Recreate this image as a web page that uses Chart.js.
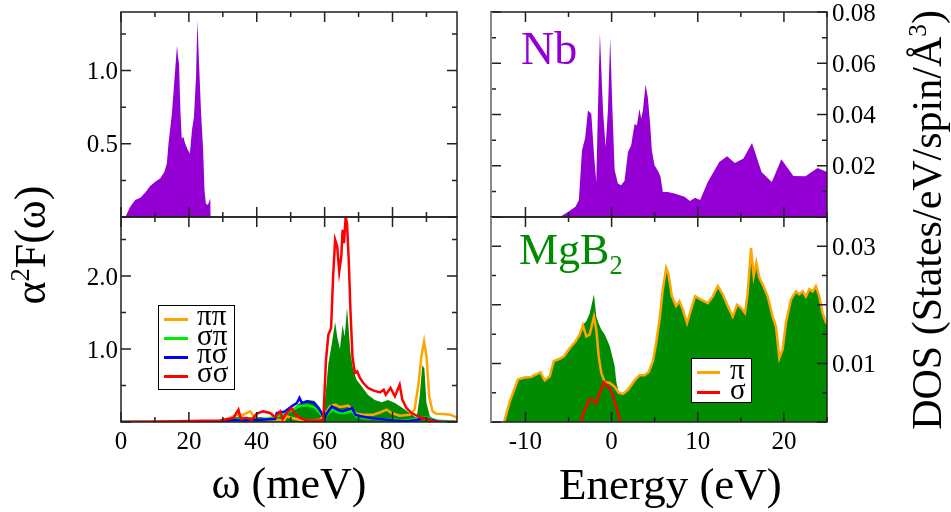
<!DOCTYPE html>
<html>
<head>
<meta charset="utf-8">
<script src="https://cdn.jsdelivr.net/npm/chart.js@4.4.0/dist/chart.umd.min.js"></script>
<style>
  body { margin: 0; background: #fff; }
  #wrap { position: relative; width: 951px; height: 512px; overflow: hidden; font-family: "Liberation Serif", serif; }
  #wrap canvas { position: absolute; left: 0; top: 0; }
  .t { position: absolute; white-space: nowrap; color: #000; text-align: center; }
  .tk { position: absolute; white-space: nowrap; color: #000; font-size: 25px; line-height: 25px; }
  .rot { transform: rotate(-90deg); }
  .leg { position: absolute; background: #fff; border: 1px solid #000; box-sizing: border-box; }
  .leg .ln { position: absolute; height: 3px; }
  .leg .lb { position: absolute; font-size: 29px; line-height: 20px; }
  sup, sub { font-size: 60%; line-height: 0; }
</style>
</head>
<body>
<div id="wrap">
  <canvas id="tl" width="951" height="512"></canvas>
  <canvas id="bl" width="951" height="512"></canvas>
  <canvas id="tr" width="951" height="512"></canvas>
  <canvas id="br" width="951" height="512"></canvas>

  <div class="t" style="left:189px;top:462px;width:200px;font-size:44px;line-height:44px;">ω (meV)</div>
  <div class="t" style="left:559px;top:462px;width:200px;font-size:45px;line-height:44px;">Energy (eV)</div>
  <div class="t rot" style="left:-69px;top:223px;width:200px;height:44px;font-size:44px;line-height:44px;">α<sup>2</sup>F(ω)</div>
  <div class="t rot" style="left:697px;top:199px;width:460px;height:42px;font-size:42px;line-height:42px;">DOS (States/eV/spin/Å<sup>3</sup>)</div>
  <div class="t" style="left:521px;top:26px;font-size:46px;line-height:46px;color:#9400d3;text-align:left;">Nb</div>
  <div class="t" style="left:519px;top:228px;font-size:44px;line-height:44px;color:#008b00;text-align:left;">MgB<sub>2</sub></div>

  <div class="leg" id="legL" style="left:158px;top:305px;width:77px;height:85px;"></div>
  <div class="leg" id="legR" style="left:691px;top:358px;width:61px;height:45px;"></div>
</div>

<script>
// ---- Nb alpha^2F(omega), top left ----
const nbW   = [0, 1.3, 2.7, 4.2, 5.7, 7.1, 8.6, 10.1, 11.6, 12.8, 13.5, 14.0, 15.0, 15.8, 16.5, 16.8, 17.1, 17.5, 17.9, 18.4, 18.9, 19.7, 20.3, 20.9, 21.5, 22.1, 22.5, 23.0, 23.6, 24.2, 24.6, 25.0, 25.6, 26.3, 26.4, 99];
const nbA2F = [0, 0, 0.070, 0.116, 0.132, 0.166, 0.211, 0.241, 0.264, 0.309, 0.366, 0.502, 0.706, 0.956, 1.172, 1.093, 1.048, 0.729, 0.536, 0.547, 0.502, 0.457, 0.434, 0.593, 0.684, 0.956, 1.343, 1.048, 0.707, 0.457, 0.184, 0.093, 0.082, 0.127, 0, 0];

// ---- MgB2 alpha^2F(omega), bottom left ----
const mgW   = [0, 29, 32, 35, 38, 41, 44, 46, 48, 50.3, 52.7, 55, 57, 58.6, 59.6, 60.4, 61.1, 62.1, 63.1, 63.7, 64.5, 65.3, 65.9, 66.6, 67.1, 67.6, 68.4, 69.4, 70.9, 72.8, 74.8, 76.8, 78.7, 80.7, 83.1, 85.1, 87.1, 88, 88.8, 89.4, 90, 91, 92.5, 94, 99];
const mgA2F = [0, 0.01, 0.05, 0.08, 0.06, 0.07, 0.05, 0.10, 0.12, 0.17, 0.26, 0.30, 0.29, 0.20, 0.10, 0.44, 0.80, 1.07, 1.37, 1.17, 1.00, 1.33, 1.17, 1.57, 1.26, 0.95, 0.72, 0.58, 0.49, 0.37, 0.30, 0.27, 0.30, 0.26, 0.19, 0.12, 0.055, 0.35, 0.78, 0.73, 0.26, 0.08, 0.03, 0.01, 0];

const ppW = [0, 29.2, 32.1, 34.1, 36.1, 38.1, 39.1, 41, 43, 45, 46.4, 47.9, 48.8, 50.3, 52.7, 55.6, 58.6, 60.1, 61.6, 63.1, 64.5, 66, 67, 68, 69.4, 71.4, 74.3, 76.3, 78.3, 79.7, 82.1, 85.1, 86.5, 87.7, 88.5, 89.3, 90, 90.8, 91.8, 92.9, 95, 97, 99];
const ppA = [0, 0.01, 0.055, 0.1, 0.1, 0.145, 0.08, 0.03, 0.03, 0.02, 0.03, 0.01, 0.08, 0.055, 0.03, 0.02, 0.03, 0.1, 0.215, 0.237, 0.205, 0.215, 0.225, 0.17, 0.114, 0.1, 0.1, 0.13, 0.17, 0.123, 0.086, 0.1, 0.17, 0.534, 0.9, 1.104, 0.9, 0.35, 0.145, 0.114, 0.11, 0.1, 0.06];

const spW = [0, 30, 34, 38, 42, 46, 48, 50, 52.6, 55, 57, 59, 60, 61, 62.5, 64, 66, 68, 69.5, 72, 76, 80, 84, 88, 90, 93, 99];
const spA = [0, 0.005, 0.04, 0.05, 0.03, 0.08, 0.1, 0.15, 0.22, 0.23, 0.2, 0.1, 0.05, 0.12, 0.17, 0.13, 0.12, 0.15, 0.07, 0.05, 0.04, 0.03, 0.02, 0.05, 0.06, 0.02, 0];

const psW = [0, 30, 33, 36, 39, 41, 45.4, 45.9, 48.3, 50.3, 51.8, 52.6, 53.3, 54.8, 56.8, 58.2, 59.2, 59.9, 60.7, 62.1, 63.7, 65.2, 66.6, 68.1, 69.1, 70.6, 73.5, 76.5, 80.4, 84.3, 87.3, 89.2, 91.2, 93.9, 99];
const psA = [0, 0.005, 0.03, 0.02, 0.035, 0.03, 0.04, 0.123, 0.145, 0.215, 0.26, 0.33, 0.26, 0.283, 0.26, 0.19, 0.114, 0.04, 0.123, 0.215, 0.17, 0.145, 0.17, 0.19, 0.1, 0.08, 0.055, 0.04, 0.02, 0.01, 0.03, 0.055, 0.03, 0, 0];

const ssW = [0, 10, 20, 29.2, 33.1, 34.6, 35.3, 37.1, 38.5, 40.0, 41.9, 43.9, 45.4, 46.9, 47.6, 48.8, 50.3, 51.3, 52.7, 54.7, 58.6, 59.6, 60.4, 61.1, 61.9, 62.5, 63.1, 63.7, 64.3, 64.9, 65.3, 65.7, 66.2, 66.6, 67.1, 67.6, 68.2, 68.9, 69.6, 70.4, 71.4, 72.8, 74.3, 76.3, 77.4, 78.0, 79.4, 80.7, 82.1, 82.9, 84.1, 85.6, 87.1, 88.5, 90, 92, 93.9, 99];
const ssA = [0, 0.005, 0.015, 0.02, 0.055, 0.17, 0.04, 0.055, 0.03, 0.114, 0.145, 0.123, 0.068, 0.145, 0.04, 0.123, 0.19, 0.11, 0.055, 0.02, 0.02, 0.03, 0.853, 1.196, 1.288, 1.995, 2.497, 2.405, 2.063, 2.268, 2.634, 2.452, 2.81, 2.72, 2.22, 1.538, 0.899, 0.671, 0.693, 0.603, 0.534, 0.466, 0.433, 0.405, 0.442, 0.374, 0.466, 0.351, 0.511, 0.305, 0.192, 0.123, 0.086, 0.055, 0.04, 0.01, 0, 0];

// ---- Nb DOS, top right ----
const nbE   = [-14, -6.0, -5.06, -4.2, -3.8, -3.44, -3.06, -2.75, -2.36, -2.05, -1.78, -1.59, -1.36, -1.0, -0.7, -0.43, -0.16, 0.07, 0.35, 0.73, 1.1, 1.5, 1.9, 2.27, 2.67, 2.93, 3.24, 3.43, 3.63, 3.94, 4.2, 4.47, 4.67, 4.98, 5.45, 5.68, 5.94, 6.52, 7.3, 8.46, 9.1, 9.69, 10.27, 11.16, 12.5, 13.4, 14.3, 15.3, 16.3, 17.4, 18.6, 19.7, 21.1, 22.5, 23.9, 25];
const nbDos = [0, 0, 0.002, 0.004, 0.0066, 0.026, 0.031, 0.0416, 0.0403, 0.0247, 0.0137, 0.0416, 0.0716, 0.0416, 0.0273, 0.0416, 0.070, 0.0442, 0.0183, 0.0131, 0.0124, 0.0141, 0.0254, 0.028, 0.0364, 0.0357, 0.0422, 0.0383, 0.0416, 0.0517, 0.0467, 0.0364, 0.026, 0.0202, 0.0176, 0.0157, 0.0098, 0.0098, 0.0092, 0.0079, 0.0062, 0.0075, 0.0066, 0.0137, 0.0215, 0.0237, 0.0211, 0.0228, 0.0289, 0.0176, 0.0137, 0.0225, 0.016, 0.0159, 0.0191, 0.0176];

// ---- MgB2 DOS, bottom right ----
const mgE   = [-12.48, -11.82, -10.86, -10.08, -9.32, -8.62, -8.27, -7.76, -7.18, -6.72, -6.03, -5.53, -4.87, -4.22, -3.71, -3.33, -2.94, -2.55, -2.05, -1.78, -1.5, -1.2, -0.81, -0.23, 0.35, 0.54, 0.81, 1.31, 1.89, 2.67, 3.24, 3.82, 4.29, 4.79, 5.17, 5.56, 5.94, 6.33, 6.6, 6.99, 7.49, 7.88, 8.26, 8.76, 9.22, 9.69, 10.38, 11.16, 11.74, 12.32, 12.9, 13.48, 14.06, 14.56, 15.02, 15.48, 15.79, 16.18, 16.49, 16.8, 17.15, 17.53, 18.11, 18.69, 19.08, 19.47, 19.85, 20.23, 20.81, 21.39, 21.78, 22.17, 22.55, 22.94, 23.33, 23.71, 24.1, 24.49, 24.87, 25];
const mgPi  = [0, 0.0035, 0.0073, 0.0076, 0.0077, 0.0082, 0.0085, 0.0071, 0.0078, 0.0104, 0.0108, 0.0112, 0.0126, 0.0137, 0.0149, 0.0165, 0.0146, 0.0149, 0.018, 0.0158, 0.0112, 0.0084, 0.0068, 0.0067, 0.006, 0.0056, 0.005, 0.0048, 0.0055, 0.0071, 0.008, 0.008, 0.0085, 0.0104, 0.0135, 0.0175, 0.0226, 0.0263, 0.0252, 0.0215, 0.0198, 0.0206, 0.0192, 0.0169, 0.0192, 0.0215, 0.0209, 0.0203, 0.0214, 0.0232, 0.0218, 0.0198, 0.018, 0.02, 0.0195, 0.0186, 0.022, 0.0297, 0.0249, 0.0272, 0.0246, 0.0235, 0.0215, 0.018, 0.0163, 0.0109, 0.0124, 0.0169, 0.0209, 0.0223, 0.0218, 0.0223, 0.0214, 0.0227, 0.0223, 0.0232, 0.0215, 0.0186, 0.017, 0.0168];
const mgTot = [0, 0.0035, 0.0073, 0.0076, 0.0077, 0.0082, 0.0085, 0.0071, 0.0078, 0.0104, 0.0108, 0.0112, 0.0126, 0.0137, 0.0149, 0.0166, 0.0172, 0.0185, 0.0218, 0.018, 0.0168, 0.0158, 0.015, 0.013, 0.0096, 0.0069, 0.005, 0.0048, 0.0055, 0.0071, 0.008, 0.008, 0.0085, 0.0104, 0.0135, 0.0175, 0.0226, 0.0263, 0.0252, 0.0215, 0.0198, 0.0206, 0.0192, 0.0169, 0.0192, 0.0215, 0.0209, 0.0203, 0.0214, 0.0232, 0.0218, 0.0198, 0.018, 0.02, 0.0195, 0.0186, 0.022, 0.0297, 0.0249, 0.0272, 0.0246, 0.0235, 0.0215, 0.018, 0.0163, 0.0109, 0.0124, 0.0169, 0.0209, 0.0223, 0.0218, 0.0223, 0.0214, 0.0227, 0.0223, 0.0232, 0.0215, 0.0186, 0.017, 0.0168];
const sgE   = [-3.6, -3.13, -2.55, -2.17, -1.78, -1.39, -0.89, -0.43, 0.03, 0.42, 0.73, 1.04];
const sgDos = [0, 0.0021, 0.0039, 0.0038, 0.0032, 0.005, 0.0068, 0.0061, 0.005, 0.0032, 0.0015, 0];

// legends
const legLabels = ["ππ", "σπ", "πσ", "σσ"];
const legColors = ["#ffa500", "#00ee00", "#0000ff", "#ff0000"];
const legRLabels = ["π", "σ"];
const legRColors = ["#ffa500", "#ff0000"];

const PURPLE = "#9400d3", GREEN = "#008b00";

const pts = (xs, ys) => xs.map((x, i) => ({ x, y: ys[i] }));
const isMajor = (v, step) => Math.abs(v / step - Math.round(v / step)) < 1e-6;

// frame + inward ticks on all four sides (xmgrace look)
const frameTicks = {
  id: "frameTicks",
  afterDraw(chart, args, o) {
    const { ctx, chartArea: a, scales: { x, y } } = chart;
    ctx.save();
    ctx.strokeStyle = "#222";
    ctx.lineWidth = 1.5;
    ctx.beginPath();
    x.ticks.forEach(t => {
      const p = x.getPixelForValue(t.value);
      const len = isMajor(t.value, o.xMajor) ? 10 : 5;
      ctx.moveTo(p, a.bottom); ctx.lineTo(p, a.bottom - len);
      ctx.moveTo(p, a.top); ctx.lineTo(p, a.top + len);
    });
    y.ticks.forEach(t => {
      const p = y.getPixelForValue(t.value);
      const len = isMajor(t.value, o.yMajor) ? 10 : 5;
      ctx.moveTo(a.left, p); ctx.lineTo(a.left + len, p);
      ctx.moveTo(a.right, p); ctx.lineTo(a.right - len, p);
    });
    ctx.stroke();
    ctx.strokeRect(a.left, a.top, a.width, a.height);
    if (o.leftColor) {
      ctx.strokeStyle = o.leftColor;
      ctx.lineWidth = 2;
      ctx.beginPath(); ctx.moveTo(a.left, a.top); ctx.lineTo(a.left, a.bottom); ctx.stroke();
    }
    ctx.restore();
  }
};

// tick labels are built by the scale (callback) but shown as page text so the serif face is used
function axis(s, pos, size) {
  return {
    type: "linear", position: pos, min: s.min, max: s.max,
    grid: { display: false }, border: { display: false },
    ticks: {
      stepSize: s.minor, includeBounds: false, autoSkip: false, maxRotation: 0, display: false,
      callback: v => (s.labels && isMajor(v, s.major) && !(s.noZero && Math.abs(v) < 1e-9)) ? v.toFixed(s.dec) : ""
    },
    afterFit: sc => {
      if (pos === "bottom") sc.height = size; else sc.width = size;
      sc.paddingLeft = sc.paddingRight = sc.paddingTop = sc.paddingBottom = 0;
    }
  };
}

function tickText(chart, ypos) {
  const wrap = document.getElementById("wrap");
  const a = chart.chartArea, { x, y } = chart.scales;
  const add = (text, css) => {
    const d = document.createElement("div");
    d.className = "tk";
    d.textContent = text;
    Object.assign(d.style, css);
    wrap.appendChild(d);
  };
  x.ticks.forEach(t => {
    if (t.label) add(t.label, { left: (x.getPixelForValue(t.value) - 40) + "px", width: "80px",
                                textAlign: "center", top: (a.bottom + 6) + "px" });
  });
  y.ticks.forEach(t => {
    if (!t.label) return;
    const top = (y.getPixelForValue(t.value) - 12.5) + "px";
    if (ypos === "left") add(t.label, { left: (a.left - 103) + "px", width: "100px", textAlign: "right", top });
    else add(t.label, { left: (a.right + 5) + "px", top });
  });
}

function panel(id, rect, datasets, xs, ys, ypos, leftColor) {
  const [L, T, R, B] = rect;
  const pad = { left: L, top: T, right: 951 - R, bottom: 0 };
  if (ypos === "left") pad.left = 0; else pad.right = 0;
  const chart = new Chart(document.getElementById(id), {
    type: "line",
    data: { datasets },
    options: {
      responsive: false, animation: false,
      layout: { autoPadding: false, padding: pad },
      elements: { point: { radius: 0 }, line: { tension: 0 } },
      plugins: { legend: { display: false }, tooltip: { enabled: false },
                 frameTicks: { xMajor: xs.major, yMajor: ys.major, leftColor } },
      scales: {
        x: axis(xs, "bottom", 512 - B),
        y: axis(ys, ypos, ypos === "left" ? L : 951 - R)
      }
    },
    plugins: [frameTicks]
  });
  tickText(chart, ypos);
  return chart;
}

const fillSet = (data, color) => ({ data, fill: "origin", backgroundColor: color, borderColor: color, borderWidth: 0 });
const lineSet = (data, color) => ({ data, fill: false, borderColor: color, borderWidth: 2.5 });

const xOmegaTop = { min: 0, max: 99, minor: 10, major: 20, labels: false, dec: 0 };
const xOmegaBot = { ...xOmegaTop, labels: true };
const xEnTop = { min: -14, max: 25, minor: 5, major: 10, labels: false, dec: 0 };
const xEnBot = { ...xEnTop, labels: true };

panel("tl", [121, 12, 457, 217],
  [fillSet(pts(nbW, nbA2F), PURPLE)],
  xOmegaTop, { min: 0, max: 1.4, minor: 0.25, major: 0.5, labels: true, dec: 1, noZero: true }, "left");

panel("bl", [121, 217, 457, 422],
  [lineSet(pts(ssW, ssA), legColors[3]),
   lineSet(pts(psW, psA), legColors[2]),
   lineSet(pts(spW, spA), legColors[1]),
   lineSet(pts(ppW, ppA), legColors[0]),
   fillSet(pts(mgW, mgA2F), GREEN)],
  xOmegaBot, { min: 0, max: 2.81, minor: 0.5, major: 1, labels: true, dec: 1, noZero: true }, "left");

panel("tr", [491, 12, 827, 217],
  [fillSet(pts(nbE, nbDos), PURPLE)],
  xEnTop, { min: 0, max: 0.08, minor: 0.01, major: 0.02, labels: true, dec: 2, noZero: true }, "right", "#888");

panel("br", [491, 217, 827, 422],
  [lineSet(pts(sgE, sgDos), legRColors[1]),
   lineSet(pts(mgE, mgPi), legRColors[0]),
   fillSet(pts(mgE, mgTot), GREEN)],
  xEnBot, { min: 0, max: 0.035, minor: 0.005, major: 0.01, labels: true, dec: 2, noZero: true }, "right", "#888");

function legend(el, labels, colors, rows, lineX, lineW, textX) {
  labels.forEach((lab, i) => {
    const c = rows[i];
    el.innerHTML += `<div class="ln" style="left:${lineX}px;top:${c - 1.5}px;width:${lineW}px;background:${colors[i]}"></div>` +
                    `<div class="lb" style="left:${textX}px;top:${c - 14}px">${lab}</div>`;
  });
}
legend(document.getElementById("legL"), legLabels, legColors, [13, 32.5, 51, 70], 5, 24, 38);
legend(document.getElementById("legR"), legRLabels, legRColors, [13.5, 33.5], 5, 23, 38);
</script>
</body>
</html>
